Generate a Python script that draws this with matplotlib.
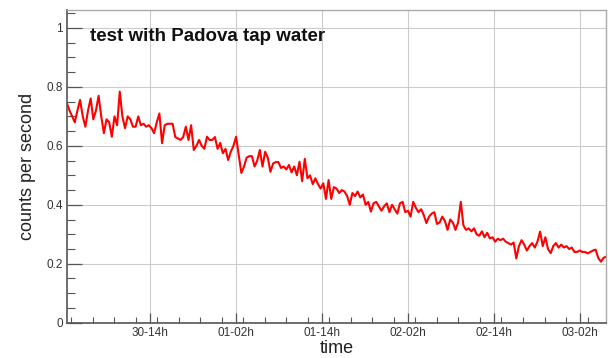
import numpy as np
import matplotlib
matplotlib.use("Agg")
import matplotlib.pyplot as plt
from matplotlib.ticker import MultipleLocator, FixedLocator


# time axis in hours counted from day 30, 00h
TIME_START_H = 2.4
TIME_END_H = 77.6

TICK_HOURS = [14, 26, 38, 50, 62, 74]
TICK_LABELS = ["30-14h", "01-02h", "01-14h", "02-02h", "02-14h", "03-02h"]

# counts per second (evenly spaced in time)
COUNTS = [
    0.745, 0.72, 0.70, 0.68, 0.72, 0.756, 0.70, 0.665, 0.72, 0.761, 0.69, 0.72,
    0.77, 0.70, 0.643, 0.69, 0.68, 0.631,
    0.70, 0.67, 0.784, 0.70, 0.66, 0.70, 0.69, 0.665, 0.665, 0.70, 0.67, 0.675,
    0.665, 0.67, 0.66, 0.643,
    0.68, 0.71, 0.609, 0.67, 0.675, 0.675, 0.675, 0.63, 0.625, 0.62, 0.63, 0.665,
    0.62, 0.67, 0.586,
    0.60, 0.62, 0.60, 0.59, 0.631, 0.62, 0.62, 0.63, 0.59, 0.61, 0.575, 0.59,
    0.552, 0.58, 0.60,
    0.631, 0.57, 0.508, 0.53, 0.56, 0.565, 0.565, 0.53, 0.55, 0.586, 0.53, 0.58,
    0.56, 0.512, 0.54,
    0.545, 0.545, 0.525, 0.53, 0.52, 0.535, 0.51, 0.53, 0.50, 0.546, 0.48, 0.556,
    0.49, 0.50, 0.47,
    0.49, 0.47, 0.455, 0.473, 0.42, 0.484, 0.42, 0.46, 0.455, 0.44, 0.45, 0.445,
    0.43, 0.40, 0.44,
    0.43, 0.445, 0.425, 0.435, 0.40, 0.41, 0.377, 0.405, 0.41, 0.395, 0.38, 0.395,
    0.405, 0.375, 0.40,
    0.385, 0.37, 0.405, 0.41, 0.375, 0.38, 0.36, 0.41, 0.39, 0.375, 0.385, 0.365,
    0.338, 0.36, 0.37,
    0.375, 0.335, 0.34, 0.36, 0.345, 0.315, 0.35, 0.34, 0.315, 0.34, 0.41, 0.33,
    0.315, 0.32, 0.31,
    0.32, 0.30, 0.295, 0.31, 0.29, 0.305, 0.286, 0.29, 0.275, 0.285, 0.28, 0.285,
    0.275, 0.27, 0.265,
    0.272, 0.218, 0.26, 0.28, 0.265, 0.245, 0.26, 0.27, 0.255, 0.275, 0.309, 0.26,
    0.29, 0.25, 0.236,
    0.26, 0.27, 0.255, 0.265, 0.255, 0.26, 0.25, 0.255, 0.24, 0.24, 0.245, 0.24,
    0.24, 0.235, 0.24,
    0.245, 0.248, 0.22, 0.207, 0.22, 0.224,
]

TITLE = "test with Padova tap water"

plt.rcParams["font.family"] = ["Liberation Sans", "DejaVu Sans"]

hours = np.linspace(TIME_START_H, TIME_END_H, len(COUNTS))

fig = plt.figure(figsize=(6.08, 3.58), dpi=100)
ax = fig.add_axes([0.110, 0.0986, 0.887, 0.8735])

ax.plot(hours, COUNTS, color="#ff0000", linewidth=1.5)

ax.set_xlim(TIME_START_H, TIME_END_H)
ax.set_ylim(0, 1.061)

ax.xaxis.set_major_locator(FixedLocator(TICK_HOURS))
ax.set_xticklabels(TICK_LABELS)
ax.xaxis.set_minor_locator(MultipleLocator(3))
ax.yaxis.set_minor_locator(MultipleLocator(0.05))
ax.set_yticks([0, 0.2, 0.4, 0.6, 0.8, 1.0])
ax.set_yticklabels(["0", "0.2", "0.4", "0.6", "0.8", "1"])

ax.grid(True, which="major", color="#cccccc", linewidth=0.8)
ax.set_axisbelow(True)

ax.tick_params(axis="both", which="both", direction="in", colors="#555555",
               labelcolor="#333333", labelsize=8.5, top=False, right=False)
ax.tick_params(axis="y", which="major", length=11, width=0.9, pad=3)
ax.tick_params(axis="y", which="minor", length=6, width=0.8)
ax.tick_params(axis="x", which="major", length=7, width=0.9, pad=3)
ax.tick_params(axis="x", which="minor", length=4, width=0.8)

for side in ["left", "bottom"]:
    ax.spines[side].set_color("#555555")
    ax.spines[side].set_linewidth(1.2)
for side in ["top", "right"]:
    ax.spines[side].set_color("#aaaaaa")
    ax.spines[side].set_linewidth(1.0)

ax.set_xlabel("time", fontsize=13, color="#222222", labelpad=1)
ax.set_ylabel("counts per second", fontsize=13, color="#222222", labelpad=7)

ax.text(0.043, 0.915, TITLE, transform=ax.transAxes, fontsize=13.5,
        fontweight="bold", color="#111111", va="center", ha="left")

fig.savefig("out.png", dpi=100)
